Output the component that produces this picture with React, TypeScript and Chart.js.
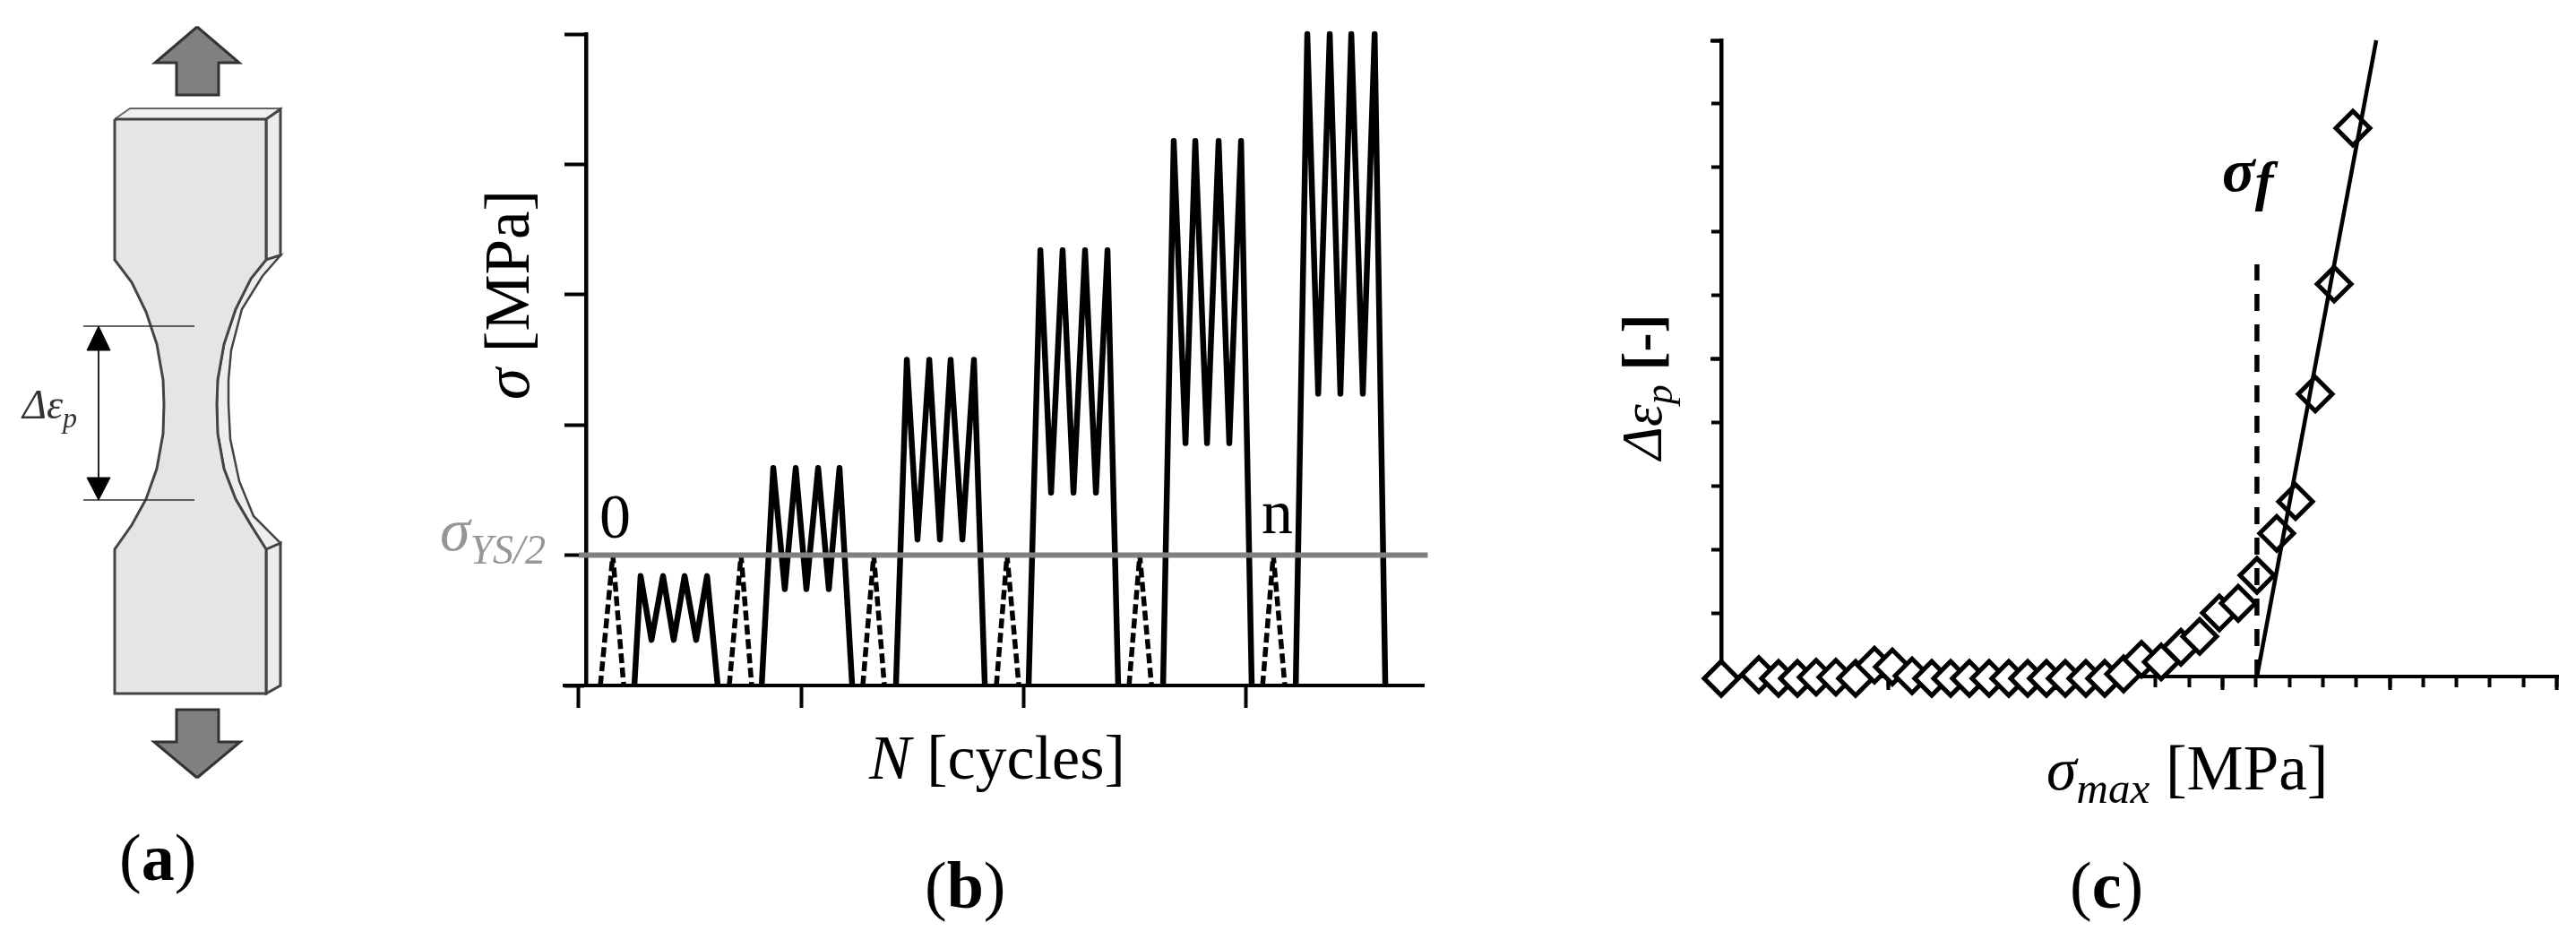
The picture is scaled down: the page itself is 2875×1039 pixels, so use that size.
import { useEffect, useRef } from 'react';
import { Chart, registerables } from 'chart.js';

Chart.register(...registerables);

// panel (a): specimen outline, in sketch units
const faceOutline = [[128, 133], [297, 133], [297, 290], [280, 311], [263, 345], [250, 384], [243, 424], [242, 451], [243, 484], [250, 523], [263, 557], [280, 586], [297, 613], [297, 774], [128, 774], [128, 613], [147, 586], [163, 557], [175, 523], [182, 484], [183, 451], [182, 424], [175, 384], [163, 348], [147, 315], [128, 290]];
const sideUpper = [[297, 133], [313, 122], [313, 285], [297, 290]];
const sideLower = [[297, 613], [313, 606], [313, 765], [297, 774]];
const topFace = [[128, 133], [145, 121], [313, 121], [297, 133]];
const sideNeck = [[297, 290], [280, 311], [263, 345], [250, 384], [243, 424], [242, 451], [243, 484], [250, 523], [263, 557], [280, 586], [297, 613], [313, 606], [283, 576], [267, 537], [257, 490], [255, 451], [255, 424], [258, 391], [270, 345], [293, 308], [313, 285]];
const arrowUp = [[220, 30], [267, 70], [244, 70], [244, 106], [197, 106], [197, 70], [173, 70]];
const arrowDown = [[220, 868], [268, 828], [244, 828], [244, 792], [197, 792], [197, 828], [172, 828]];
const gaugeTop = [[93, 364], [217, 364]];
const gaugeBottom = [[93, 558], [217, 558]];
const gaugeShaft = [[110, 364], [110, 558]];
const gaugeHeadTop = [[110, 364], [123, 391], [97, 391]];
const gaugeHeadBottom = [[110, 558], [123, 533], [97, 533]];

// panel (b): stress blocks against cycles
const solidCycles = [
  [25, 27.8, 32.7, 37.9, 42.7, 47.6, 52.8, 57.7, 62.5],
  [82.3, 87.5, 92.7, 97.6, 102.4, 107.7, 112.5, 117.3, 123],
  [142.7, 147.6, 152.4, 157.7, 162.5, 167.3, 172.6, 177.8, 182.7],
  [202.4, 207.7, 212.5, 217.7, 222.6, 227.8, 232.7, 237.9, 242.7],
  [262.9, 267.7, 273, 277.4, 282.7, 287.9, 292.7, 298, 302.8],
  [322.6, 327.8, 332.7, 337.9, 342.7, 347.6, 352.8, 358.1, 362.9],
];
const blockPeaks = [84, 167, 250, 334, 418, 500];
const blockTroughs = [35, 74, 112, 148, 186, 224];
const dashedCycles = [
  [9.7, 15.3, 20.2],
  [67.7, 73, 77.8],
  [127.8, 132.7, 137.5],
  [187.9, 192.7, 198],
  [247.6, 252.4, 257.7],
  [307.7, 312.5, 317.7],
];
const yieldLevel = 100;
const cycleTicks = [0, 100, 200, 300];
const stressTicks = [0, 100, 200, 300, 400, 500];

// panel (c): strain range against max stress
const sigmaMax = [0, 22.5, 34.3, 45.6, 56.8, 68.6, 80.4, 91.7, 102.4, 114.2, 126, 137.3, 148.5, 160.3, 172.1, 183.4, 194.6, 205.9, 218.2, 229.5, 240.8, 251.5, 263.3, 275.1, 286.3, 298.1, 309.4, 320.6, 332.4, 343.7, 355.5, 366.8, 378];
const strainRange = [-0.03, 0.03, -0.03, -0.03, -0.01, -0.01, -0.03, 0.18, 0.15, 0.01, -0.03, -0.03, -0.03, -0.03, -0.03, -0.03, -0.03, -0.03, -0.03, -0.03, 0.04, 0.27, 0.23, 0.46, 0.63, 1, 1.15, 1.59, 2.25, 2.75, 4.44, 6.17, 8.62];
const fitLineX = [320.6, 392];
const fitLineY = [0, 10];
const fatigueLimitX = [320.6, 320.6];
const fatigueLimitY = [0, 6.48];
const sigmaMinorTicks = [0, 20, 40, 60, 80, 100, 120, 140, 160, 180, 200, 220, 240, 260, 280, 300, 320, 340, 360, 380, 400, 420, 440, 460, 480, 500];
const sigmaMajorTicks = [0, 100, 200, 300, 400, 500];
const strainTicks = [0, 1, 2, 3, 4, 5, 6, 7, 8, 9, 10];
const strainMajorTicks = [0, 5, 10];

const SERIF = '"Liberation Serif"';

type Run = { t: string; font: string; dy?: number };
type Label = { x: number; y: number; rot?: number; color?: string; runs: Run[] };

// writes mixed-style labels (italic symbol + subscript + plain) at page position
function labelsPlugin(labels: Label[], left: number) {
  return {
    id: 'labels',
    afterDraw(chart: any) {
      const ctx = chart.ctx;
      labels.forEach((l) => {
        ctx.save();
        ctx.translate(l.x - left, l.y);
        if (l.rot) ctx.rotate(l.rot);
        ctx.fillStyle = l.color || '#000';
        ctx.textBaseline = 'alphabetic';
        let cx = 0;
        l.runs.forEach((r) => {
          ctx.font = r.font;
          ctx.fillText(r.t, cx, r.dy || 0);
          cx += ctx.measureText(r.t).width;
        });
        ctx.restore();
      });
    },
  };
}

const pts = (list: number[][]) => list.map(([x, y]) => ({ x, y }));

const shape = (list: number[][], fill: string | null, line: string, width: number) => ({
  data: pts(list),
  showLine: true,
  pointRadius: 0,
  borderColor: line,
  borderWidth: width,
  backgroundColor: fill || 'transparent',
  fill: fill ? 'shape' : false,
  borderJoinStyle: 'miter',
  clip: false,
});

const closed = (list: number[][]) => [...list, list[0]];

const fixedTicks = (list: number[]) => (scale: any) => {
  scale.ticks = list.map((value) => ({ value }));
};

const labelsA: Label[] = [
  { x: 25, y: 467, color: '#333', runs: [{ t: 'Δε', font: `italic 46px ${SERIF}` }, { t: 'p', font: `italic 32px ${SERIF}`, dy: 10 }] },
  { x: 133, y: 982, runs: [{ t: '(', font: `74px ${SERIF}` }, { t: 'a', font: `bold 74px ${SERIF}` }, { t: ')', font: `74px ${SERIF}` }] },
];

const labelsB: Label[] = [
  { x: 590, y: 446, rot: -Math.PI / 2, runs: [{ t: 'σ', font: `italic 71px ${SERIF}` }, { t: ' [MPa]', font: `71px ${SERIF}` }] },
  { x: 970, y: 869, runs: [{ t: 'N', font: `italic 70px ${SERIF}` }, { t: ' [cycles]', font: `70px ${SERIF}` }] },
  { x: 669, y: 600, runs: [{ t: '0', font: `70px ${SERIF}` }] },
  { x: 1408, y: 595, runs: [{ t: 'n', font: `70px ${SERIF}` }] },
  { x: 491, y: 614, color: '#969696', runs: [{ t: 'σ', font: `italic 68px ${SERIF}` }, { t: 'YS/2', font: `italic 46px ${SERIF}`, dy: 15 }] },
  { x: 1032, y: 1013, runs: [{ t: '(', font: `74px ${SERIF}` }, { t: 'b', font: `bold 74px ${SERIF}` }, { t: ')', font: `74px ${SERIF}` }] },
];

const labelsC: Label[] = [
  { x: 1854, y: 513, rot: -Math.PI / 2, runs: [{ t: 'Δε', font: `italic 63px ${SERIF}` }, { t: 'p', font: `italic 44px ${SERIF}`, dy: 12 }, { t: ' ', font: `63px ${SERIF}` }, { t: '[-]', font: `bold 63px ${SERIF}` }] },
  { x: 2480, y: 213, runs: [{ t: 'σ', font: `italic bold 68px ${SERIF}` }, { t: 'f', font: `italic bold 62px ${SERIF}`, dy: 10 }] },
  { x: 2284, y: 881, runs: [{ t: 'σ', font: `italic 68px ${SERIF}` }, { t: 'max', font: `italic 49px ${SERIF}`, dy: 15 }, { t: ' [MPa]', font: `71px ${SERIF}` }] },
  { x: 2310, y: 1013, runs: [{ t: '(', font: `74px ${SERIF}` }, { t: 'c', font: `bold 74px ${SERIF}` }, { t: ')', font: `74px ${SERIF}` }] },
];

function configA(): any {
  return {
    type: 'scatter',
    data: {
      datasets: [
        shape(closed(gaugeHeadTop), '#000', '#000', 1),
        shape(closed(gaugeHeadBottom), '#000', '#000', 1),
        shape(gaugeShaft, null, '#222', 2),
        shape(gaugeTop, null, '#333', 1.5),
        shape(gaugeBottom, null, '#333', 1.5),
        shape(closed(faceOutline), '#e6e4e6', '#444', 3),
        shape(closed(sideNeck), '#eeeeee', '#444', 2.5),
        shape(closed(sideUpper), '#ececec', '#444', 3),
        shape(closed(sideLower), '#ececec', '#444', 3),
        shape(closed(topFace), '#f0f0f0', '#666', 2),
        shape(closed(arrowUp), '#808080', '#333', 3),
        shape(closed(arrowDown), '#808080', '#333', 3),
      ],
    },
    options: {
      responsive: false,
      animation: false,
      devicePixelRatio: 1,
      events: [],
      layout: { autoPadding: false },
      plugins: { legend: { display: false }, tooltip: { enabled: false } },
      scales: {
        x: { type: 'linear', display: false, min: 0, max: 450 },
        y: { type: 'linear', display: false, min: 0, max: 1039, reverse: true },
      },
    },
    plugins: [labelsPlugin(labelsA, 0)],
  };
}

function configB(): any {
  const line = (data: { x: number; y: number }[], extra: any) => ({
    data,
    showLine: true,
    pointRadius: 0,
    borderColor: '#000',
    borderWidth: 6.5,
    borderJoinStyle: 'round',
    clip: false,
    ...extra,
  });
  const solid = solidCycles.map((cycles, b) =>
    line(
      cycles.map((x, i) => ({
        x,
        y: i === 0 || i === cycles.length - 1 ? 0 : i % 2 === 1 ? blockPeaks[b] : blockTroughs[b],
      })),
      {},
    ),
  );
  const dashed = dashedCycles.map((cycles) =>
    line(
      cycles.map((x, i) => ({ x, y: i === 1 ? yieldLevel : 0 })),
      { borderDash: [11, 5], borderWidth: 5.5 },
    ),
  );
  return {
    type: 'scatter',
    data: {
      datasets: [
        line(
          [
            { x: 0, y: yieldLevel },
            { x: 382, y: yieldLevel },
          ],
          { borderColor: '#808080', borderWidth: 6 },
        ),
        ...solid,
        ...dashed,
      ],
    },
    options: {
      responsive: false,
      animation: false,
      devicePixelRatio: 1,
      events: [],
      layout: { autoPadding: false, padding: { left: 180, right: 1700 - 1589, top: 38, bottom: 1039 - 765 } },
      plugins: { legend: { display: false }, tooltip: { enabled: false } },
      scales: {
        x: {
          type: 'linear',
          min: -6.45,
          max: 380.2,
          position: { y: 0 },
          afterBuildTicks: fixedTicks(cycleTicks),
          ticks: { display: false },
          border: { color: '#000', width: 4 },
          grid: { drawOnChartArea: false, tickLength: 23, tickWidth: 4, tickColor: '#000' },
        },
        y: {
          type: 'linear',
          min: 0,
          max: 500,
          position: { x: 3.2 },
          afterBuildTicks: fixedTicks(stressTicks),
          ticks: { display: false },
          border: { color: '#000', width: 4.5 },
          grid: { drawOnChartArea: false, tickLength: 22, tickWidth: 4, tickColor: '#000' },
        },
      },
    },
    plugins: [labelsPlugin(labelsB, 450)],
  };
}

function configC(): any {
  return {
    type: 'scatter',
    data: {
      datasets: [
        {
          data: fitLineX.map((x, i) => ({ x, y: fitLineY[i] })),
          showLine: true,
          pointRadius: 0,
          borderColor: '#000',
          borderWidth: 4.5,
          clip: false,
        },
        {
          data: fatigueLimitX.map((x, i) => ({ x, y: fatigueLimitY[i] })),
          showLine: true,
          pointRadius: 0,
          borderColor: '#000',
          borderWidth: 5.5,
          borderDash: [19, 15],
          clip: false,
        },
        {
          data: sigmaMax.map((x, i) => ({ x, y: strainRange[i] })),
          showLine: false,
          pointStyle: 'rectRot',
          pointRadius: 19,
          pointBorderWidth: 5,
          pointBorderColor: '#000',
          pointBackgroundColor: '#fff',
          clip: false,
        },
      ],
    },
    options: {
      responsive: false,
      animation: false,
      devicePixelRatio: 1,
      events: [],
      layout: { autoPadding: false, padding: { left: 1921 - 1750, right: 2875 - 2855, top: 45, bottom: 1039 - 755 } },
      plugins: { legend: { display: false }, tooltip: { enabled: false } },
      scales: {
        x: {
          type: 'linear',
          min: 0,
          max: 500.8,
          position: { y: 0 },
          afterBuildTicks: fixedTicks(sigmaMinorTicks),
          ticks: { display: false },
          border: { color: '#000', width: 4 },
          grid: { drawOnChartArea: false, tickLength: 10, tickWidth: 4, tickColor: '#000' },
        },
        xMajor: {
          type: 'linear',
          axis: 'x',
          min: 0,
          max: 500.8,
          position: { y: 0 },
          afterBuildTicks: fixedTicks(sigmaMajorTicks),
          ticks: { display: false },
          border: { display: false },
          grid: { drawOnChartArea: false, tickLength: 15, tickWidth: 4, tickColor: '#000' },
        },
        y: {
          type: 'linear',
          min: 0,
          max: 10,
          position: { x: 0 },
          afterBuildTicks: fixedTicks(strainTicks),
          ticks: { display: false },
          border: { color: '#000', width: 4.5 },
          grid: { drawOnChartArea: false, tickLength: 9, tickWidth: 4, tickColor: '#000' },
        },
        yMajor: {
          type: 'linear',
          axis: 'y',
          min: 0,
          max: 10,
          position: { x: 0 },
          afterBuildTicks: fixedTicks(strainMajorTicks),
          ticks: { display: false },
          border: { display: false },
          grid: { drawOnChartArea: false, tickLength: 12, tickWidth: 4, tickColor: '#000' },
        },
      },
    },
    plugins: [labelsPlugin(labelsC, 1750)],
  };
}

function Panel({ left, width, make }: { left: number; width: number; make: () => any }) {
  const ref = useRef(null);

  useEffect(() => {
    if (!ref.current) return;
    const chart = new Chart(ref.current as HTMLCanvasElement, make());
    return () => {
      chart.destroy();
    };
  }, [make]);

  return <canvas ref={ref} width={width} height={1039} style={{ position: 'absolute', left, top: 0 }}></canvas>;
}

export default function App() {
  return (
    <div style={{ position: 'absolute', left: 0, top: 0, width: 2875, height: 1039, background: '#fff', overflow: 'hidden' }}>
      <Panel left={0} width={450} make={configA} />
      <Panel left={450} width={1250} make={configB} />
      <Panel left={1750} width={1125} make={configC} />
    </div>
  );
}
